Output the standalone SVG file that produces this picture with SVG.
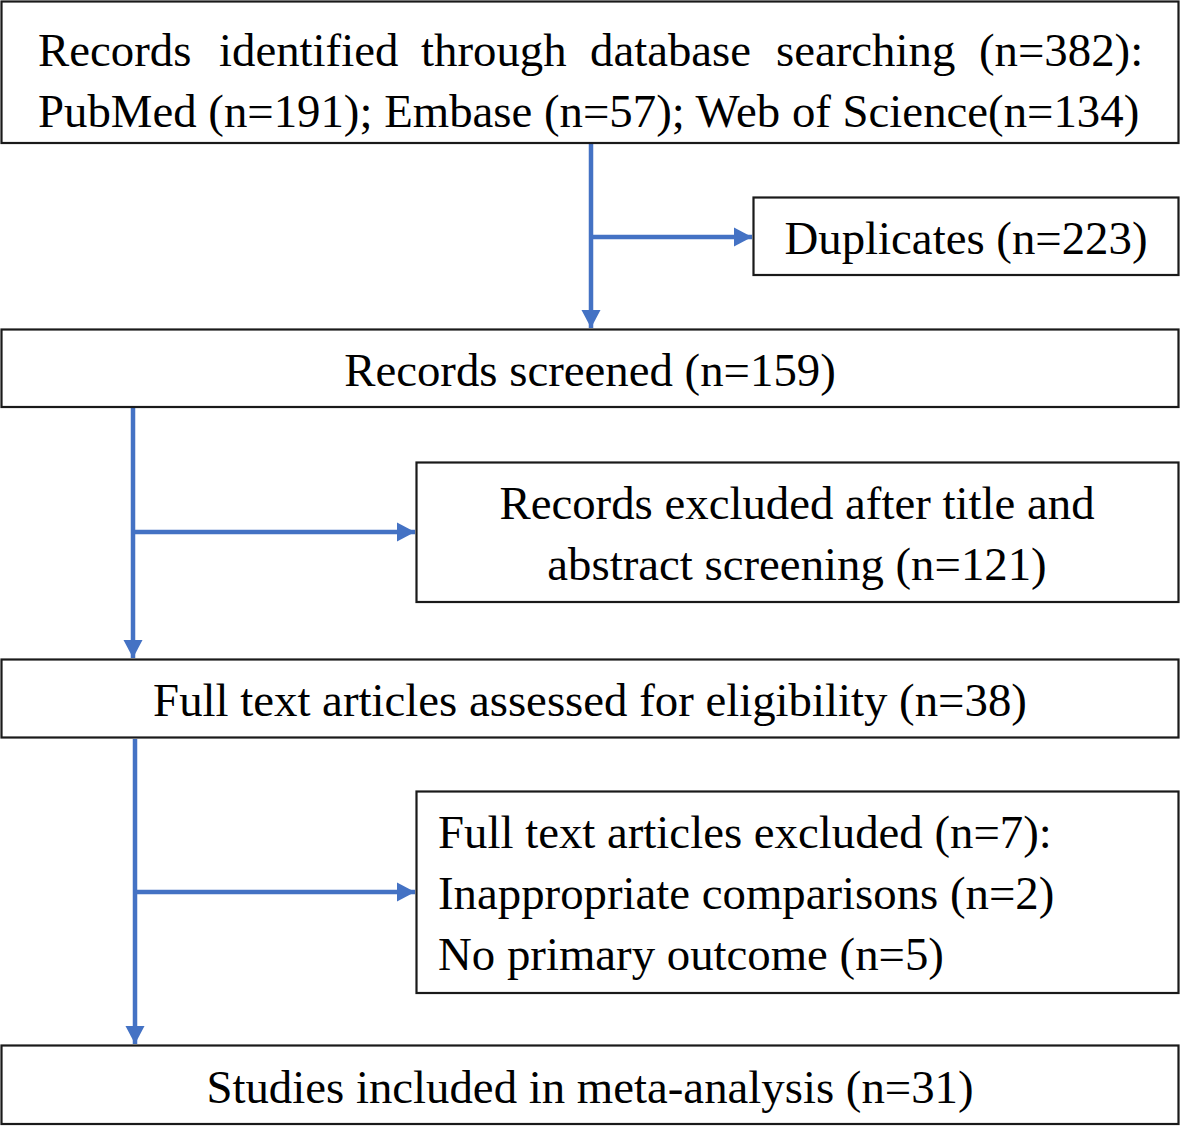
<svg xmlns="http://www.w3.org/2000/svg" width="1181" height="1126" viewBox="0 0 1181 1126">
<style>
.box{fill:#fff;stroke:#1a1a1a;stroke-width:2.2}
.t{font-family:"Liberation Serif","Times New Roman",serif;font-size:46.8px;fill:#000}
.c{text-anchor:middle}
.con{stroke:#4472C4;stroke-width:4.5;fill:none}
</style>
<defs>
<marker id="ah" markerUnits="userSpaceOnUse" markerWidth="24" markerHeight="24" viewBox="0 0 24 24" refX="19" refY="12" orient="auto">
<path d="M1,2.5 L19,12 L1,21.5 Z" fill="#4472C4"/>
</marker>
</defs>
<g id="connectors">
<line class="con" x1="591" y1="144" x2="591" y2="328" marker-end="url(#ah)"/>
<line class="con" x1="591" y1="237" x2="752" y2="237" marker-end="url(#ah)"/>
<line class="con" x1="133" y1="408" x2="133" y2="658" marker-end="url(#ah)"/>
<line class="con" x1="133" y1="532" x2="415" y2="532" marker-end="url(#ah)"/>
<line class="con" x1="135" y1="739" x2="135" y2="1044" marker-end="url(#ah)"/>
<line class="con" x1="135" y1="892" x2="415" y2="892" marker-end="url(#ah)"/>
</g>
<g id="n1">
<rect class="box" x="1.5" y="1.5" width="1177" height="141.5"/>
<text class="t" y="66"><tspan x="38">Records</tspan><tspan x="219">identified</tspan><tspan x="421">through</tspan><tspan x="590">database</tspan><tspan x="776">searching</tspan><tspan x="979">(n=382):</tspan></text>
<text class="t" x="38" y="127">PubMed (n=191); Embase (n=57); Web of Science(n=134)</text>
</g>
<g id="n2">
<rect class="box" x="753.5" y="197.5" width="425" height="77.5"/>
<text class="t c" x="966" y="254">Duplicates (n=223)</text>
</g>
<g id="n3">
<rect class="box" x="1.5" y="329.5" width="1177" height="77.5"/>
<text class="t c" x="590" y="386">Records screened (n=159)</text>
</g>
<g id="n4">
<rect class="box" x="416.5" y="462.5" width="762" height="139.5"/>
<text class="t c" x="797" y="519">Records excluded after title and</text>
<text class="t c" x="797" y="580">abstract screening (n=121)</text>
</g>
<g id="n5">
<rect class="box" x="1.5" y="659.5" width="1177" height="78"/>
<text class="t c" x="590" y="716">Full text articles assessed for eligibility (n=38)</text>
</g>
<g id="n6">
<rect class="box" x="416.5" y="791.5" width="762" height="201.5"/>
<text class="t" x="438" y="848">Full text articles excluded (n=7):</text>
<text class="t" x="438" y="909">Inappropriate comparisons (n=2)</text>
<text class="t" x="438" y="970">No primary outcome (n=5)</text>
</g>
<g id="n7">
<rect class="box" x="1.5" y="1045.5" width="1177" height="78.5"/>
<text class="t c" x="590" y="1103">Studies included in meta-analysis (n=31)</text>
</g>
</svg>
